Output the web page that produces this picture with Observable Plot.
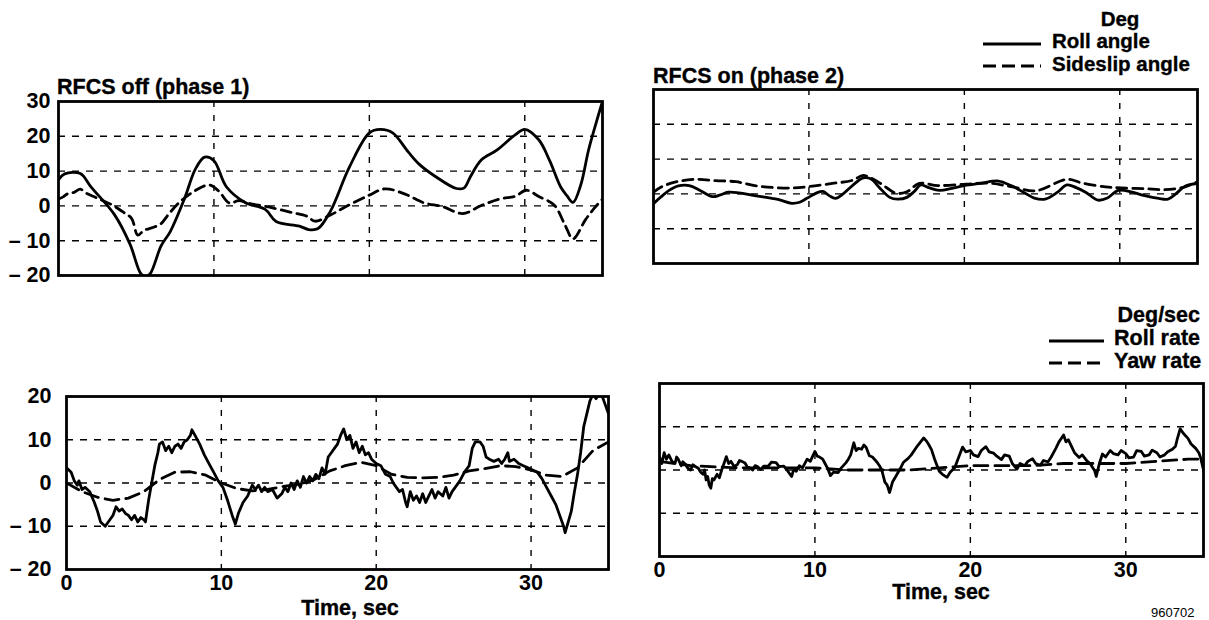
<!DOCTYPE html>
<html>
<head>
<meta charset="utf-8">
<script src="https://cdn.jsdelivr.net/npm/d3@7"></script>
<script src="https://cdn.jsdelivr.net/npm/@observablehq/plot@0.6"></script>
<style>
  html, body { margin: 0; padding: 0; background: #fff; }
  #root { position: relative; width: 1209px; height: 620px; overflow: hidden; background: #fff; }
  #root svg { position: absolute; }
  .lbl { font-family: "Liberation Sans", Arial, Helvetica, sans-serif; font-weight: bold; font-size: 21.5px; fill: #000; stroke: #000; stroke-width: 0.35px; }
</style>
</head>
<body>
<div id="root"></div>
<script>
// ---------- data (time s, value) ----------
const timeTicks = [0, 10, 20, 30];
const angleTicks = [30, 20, 10, 0, -10, -20];
const angleTickLabels = ["30", "20", "10", "0", "\u2013 10", "\u2013 20"];
const rateTicks = [20, 10, 0, -10, -20];
const rateTickLabels = ["20", "10", "0", "\u2013 10", "\u2013 20"];

// RFCS off (phase 1) – Deg
const rollAngleOff = [[0,7.5],[0.4,9.2],[1.4,9.3],[2.1,5.4],[3.6,-2.5],[4.6,-11],[5.3,-19.5],[5.6,-20.3],[5.9,-19.5],[6.6,-11.5],[7.2,-7.3],[8.1,2],[8.8,10.5],[9.4,14],[10,13],[10.8,5.5],[12,1],[13.3,-1],[14,-4.5],[15.5,-5.8],[16.1,-6.8],[16.7,-6.5],[17.5,-1.5],[18.7,11],[20,21],[20.7,22],[21.5,21],[22.5,15.5],[23.2,12],[24.2,8.6],[25.6,5],[26.1,5.2],[26.5,8.4],[27.2,13.2],[28.2,16],[29.4,20.5],[30,22],[30.9,19],[31.6,13],[32.3,5.5],[32.7,3],[33.1,1],[33.6,6],[34.1,16],[34.6,24],[35,30]];
const sideslipOff = [[0,2],[0.3,2.6],[0.6,3.5],[1,3.9],[1.4,4.8],[1.8,3.6],[2.4,2.4],[3.4,0.4],[4.1,-1.6],[4.7,-3.6],[5.1,-8.4],[5.5,-7],[5.8,-6.6],[6.2,-6],[6.6,-5.1],[7.1,-2.3],[7.8,1.1],[8.8,4.4],[9.7,6],[10.3,4.3],[11,0.8],[11.6,1.5],[12.3,0.7],[13.5,-0.3],[15,-1.9],[16,-3],[16.5,-4.4],[17.5,-2.6],[18.5,-0.2],[20,3.1],[21,4.9],[22.3,3.4],[23.5,0.9],[24.7,-0.2],[26,-2.2],[27.2,0.1],[28.4,2],[29.4,2.8],[30.1,4.5],[30.9,2.7],[31.9,0.2],[32.6,-5.6],[33.1,-9.5],[33.9,-4],[34.5,-0.5],[35,2]];

// RFCS on (phase 2) – Deg
const rollAngleOn = [[0,-2.8],[0.5,-0.8],[1,1],[1.6,2.3],[2.3,2.4],[3,1],[3.8,-0.8],[4.3,-0.3],[4.8,0.5],[5.5,0.3],[6.5,-0.5],[8,-1.6],[8.9,-2.7],[9.4,-2.4],[9.9,-1.2],[10.5,0.3],[10.9,0.7],[11.3,-0.5],[11.7,-1.3],[12.2,0],[12.8,2.4],[13.5,4.6],[14,4.3],[14.6,1.5],[15.2,-1],[15.7,-1.5],[16.3,-1],[16.8,0.8],[17.2,2.6],[17.7,1.8],[18.4,1],[19.2,1.6],[20,2.4],[21,3],[22.2,3.7],[23,2.4],[23.8,0.5],[24.5,-1.2],[25.2,-1.5],[26,0.5],[26.6,2.6],[27.2,1.8],[27.8,0.5],[28.6,-1.8],[29.2,-1.2],[29.9,1],[30.8,0.5],[31.6,-0.5],[32.5,-1.3],[33.1,-1.5],[33.6,0],[34.2,2.2],[35,3]];
const sideslipOn = [[0,0.5],[0.5,2],[1.5,3.5],[2.8,4.2],[4,3.8],[5.3,3.5],[6.5,2.4],[7.8,1.8],[9,1.7],[10,2.1],[11.5,3],[12.8,3.9],[13.5,5.3],[14.5,3.3],[15.6,0.2],[16.3,0.6],[17.1,3],[18.3,2.4],[20.1,2.8],[21.6,3.1],[23.1,2],[24.6,0.9],[26.6,4.2],[27.6,3.1],[29.1,2],[30.1,1.7],[31.6,1.5],[32.9,1.2],[34.1,1.9],[35,3.5]];

// RFCS off (phase 1) – Deg/sec
const rollRateOff = [[0,3.5],[0.3,2.5],[0.5,0.5],[0.7,-0.5],[0.8,0.5],[1.0,-1.5],[1.2,-1],[1.5,-2],[1.8,-4.5],[2.0,-6.5],[2.2,-9],[2.5,-10],[2.8,-8.5],[3.0,-7.5],[3.2,-5.5],[3.4,-6.5],[3.6,-6],[3.8,-7],[4.0,-7.5],[4.2,-8.5],[4.4,-7.5],[4.6,-9],[4.8,-8],[5.0,-8.5],[5.1,-9],[5.3,-4],[5.5,0],[5.7,4],[5.9,7],[6.0,9],[6.2,9.5],[6.4,7.5],[6.6,8.5],[6.8,7],[7.0,8.5],[7.2,9],[7.4,8],[7.6,9.5],[7.8,10],[8.0,11],[8.1,12.3],[8.3,11],[8.6,9],[8.9,6.5],[9.2,4.5],[9.5,2.5],[9.8,0.5],[10.1,-1],[10.4,-4],[10.7,-7.5],[10.9,-9.5],[11.1,-7],[11.4,-4.5],[11.7,-3],[12.0,-0.5],[12.2,-1.5],[12.4,-0.5],[12.6,-2],[12.8,-1],[13.0,-2],[13.3,-1.5],[13.6,-3.5],[13.9,-2.5],[14.1,-1],[14.3,-2],[14.5,0],[14.7,-1.5],[14.9,0.5],[15.1,-1],[15.3,1.5],[15.5,0],[15.7,1.5],[15.9,0.5],[16.1,2],[16.3,1],[16.5,3.5],[16.7,2],[16.9,6],[17.1,7],[17.3,8],[17.5,9],[17.7,11],[17.9,12.5],[18.1,10],[18.3,11],[18.5,8],[18.7,9.5],[18.9,7],[19.1,8.5],[19.3,6.5],[19.5,7],[19.7,5.5],[20.0,4.5],[20.3,4],[20.6,2],[20.9,1.5],[21.1,0],[21.3,-1],[21.5,-2],[21.7,-1.5],[21.9,-4.5],[22.0,-5.5],[22.2,-2],[22.4,-4],[22.6,-3],[22.8,-4.5],[23.0,-2.5],[23.2,-4.5],[23.4,-3],[23.6,-1.5],[23.8,-3.5],[24.0,-2],[24.3,-3],[24.5,-1],[24.7,-3.5],[24.9,-2],[25.1,-1],[25.4,0.5],[25.7,2.5],[26.0,4],[26.2,8],[26.4,9.5],[26.7,9.5],[26.9,8.5],[27.1,6],[27.3,5.5],[27.6,5],[27.9,5.5],[28.1,4.5],[28.3,5.5],[28.5,7],[28.6,5],[28.9,5.5],[29.2,4.5],[29.5,4],[29.8,3.5],[30.1,3],[30.4,2.5],[30.7,1],[31.0,-1],[31.3,-3],[31.6,-5],[31.9,-8],[32.1,-10],[32.2,-11.5],[32.4,-9],[32.6,-6.5],[32.8,-2],[33.0,2],[33.2,7],[33.4,13],[33.6,16],[33.8,19],[34.0,20.5],[34.2,19.5],[34.4,21],[34.6,20],[34.8,18],[35,16]];
const yawRateOff = [[0,0],[1,-2],[2,-3.3],[3,-4],[4,-3.5],[5,-2],[6,0.8],[7,2.5],[8,2.6],[9,1.8],[10,0],[11,-1.3],[12,-1.8],[13,-1.5],[14,-0.8],[15,-0.3],[16,0.8],[17,2.8],[18,4],[19,4.8],[20,4],[21,2],[22,1.3],[23,1.2],[24,1.3],[25,1.8],[26,2.8],[27,3.3],[28,4],[29,3.8],[30,3],[31,1.8],[32,1.5],[33,3.5],[34,7.5],[35,9.5]];

// RFCS on (phase 2) – Deg/sec
const rollRateOn = [[0,3],[0.15,1.5],[0.3,4],[0.45,2.5],[0.6,3.5],[0.8,2],[1,1.5],[1.1,3],[1.2,2.5],[1.4,1],[1.5,1.9],[1.7,1.2],[1.8,0.5],[2,0],[2.15,1.2],[2.3,0.8],[2.5,0.4],[2.65,-0.5],[2.8,-1],[2.9,0],[3,-2.3],[3.1,-1.5],[3.2,-3.5],[3.3,-4.2],[3.4,-2],[3.5,-2.3],[3.7,-1],[3.85,-1.8],[4,0],[4.15,1.5],[4.3,3.1],[4.45,1.5],[4.6,2],[4.8,0.8],[5,1.2],[5.15,2.2],[5.3,2],[5.5,1.6],[5.65,0.7],[5.8,0.5],[6,0],[6.15,1],[6.3,0.8],[6.5,0.1],[6.7,0.9],[7,0.9],[7.2,1.8],[7.5,1.7],[7.7,0.8],[8,0.9],[8.2,0],[8.5,-1.5],[8.65,0.3],[8.8,-0.3],[9,1],[9.2,0.5],[9.5,2.5],[9.7,2],[10,4.3],[10.15,3.2],[10.3,3],[10.5,2.5],[10.65,1.5],[10.8,0.5],[11,-1.3],[11.2,-0.5],[11.5,-0.6],[11.7,0.5],[12,1.7],[12.15,2.5],[12.3,3.5],[12.5,6.3],[12.65,4.5],[12.8,5],[13,4.8],[13.15,5.8],[13.3,5.2],[13.5,3.3],[13.7,3],[14,1.8],[14.15,1],[14.3,0],[14.5,-2.8],[14.65,-3.5],[14.8,-5.2],[15,-2.7],[15.2,-1.5],[15.5,0.4],[15.7,1.8],[16,2.7],[16.2,3.5],[16.5,5.1],[16.8,6.5],[17,7.4],[17.15,6.8],[17.3,6],[17.5,4.7],[17.7,2.5],[18,-0.3],[18.2,-1],[18.5,-1.7],[18.7,-0.5],[19,0.6],[19.2,2.5],[19.5,5.3],[19.7,4.2],[20,4.5],[20.2,3.5],[20.5,3.1],[20.7,4.5],[21,5.4],[21.2,4.2],[21.5,3.9],[21.7,3.2],[22,2.4],[22.2,3.5],[22.5,3.2],[22.7,1.5],[23,0.2],[23.2,1.5],[23.5,1],[23.7,2],[24,2.6],[24.2,1.5],[24.5,1.1],[24.7,2.2],[25,1.9],[25.2,3],[25.5,5],[25.7,6.5],[26,8.1],[26.15,6.5],[26.3,7],[26.5,5.5],[26.7,4],[27,2.9],[27.2,3.5],[27.5,2.1],[27.7,1.5],[28,-0.2],[28.1,-1.5],[28.2,0],[28.3,1.5],[28.5,3.7],[28.7,3],[29,4.5],[29.2,3.8],[29.5,3.5],[29.7,4.5],[30,3.8],[30.2,2.8],[30.5,3],[30.7,4.5],[31,4.3],[31.2,3.2],[31.5,3.5],[31.7,4.6],[32,4],[32.2,3],[32.5,3.5],[32.7,4.2],[33,4.8],[33.2,5.5],[33.3,7],[33.5,9.5],[33.7,8.5],[34,7.3],[34.2,6],[34.5,5],[34.7,4],[34.8,3],[35,0]];
const yawRateOn = [[0,2],[2,1],[5,0.5],[8,0.5],[10,0.5],[12,0],[14,0],[16,0],[18,0.5],[20,1],[22,1],[24,1],[26,1.5],[28,1.5],[30,1.5],[32,2],[34,2.5],[35,2.5]];

// ---------- drawing ----------
const root = document.getElementById("root");
const FONT = '"Liberation Sans", Arial, Helvetica, sans-serif';
const toRows = a => a.map(([t, v]) => ({t, v}));

function panel({left, top, w, h, yDomain, yTicks, yLabels, yPad, showY, showX, solid, dashed, dash, curve}) {
  const ML = 70, MR = 8, MT = 8, MB = 40;
  const fmt = d => yLabels[yTicks.indexOf(d)];
  const grid = yTicks.filter(d => d !== yDomain[0] && d !== yDomain[1]);
  const chart = Plot.plot({
    width: w + ML + MR, height: h + MT + MB,
    marginLeft: ML, marginRight: MR, marginTop: MT, marginBottom: MB,
    x: {domain: [0, 35], ticks: timeTicks, tickSize: 0, tickPadding: 5, label: null, axis: showX ? "bottom" : null},
    y: {domain: yDomain, ticks: yTicks, tickFormat: fmt, tickSize: 0, tickPadding: yPad, label: null, axis: showY ? "left" : null},
    style: {fontFamily: FONT, fontWeight: "bold", fontSize: "21.5px", color: "#000", background: "transparent", overflow: "visible"},
    marks: [
      Plot.ruleX([10, 20, 30], {stroke: "#000", strokeWidth: 1.4, strokeDasharray: "6,8"}),
      Plot.ruleY(grid, {stroke: "#000", strokeWidth: 1.4, strokeDasharray: "7,7"}),
      Plot.line(toRows(dashed), {x: "t", y: "v", stroke: "#000", strokeWidth: 2.8, strokeDasharray: dash, curve, clip: true}),
      Plot.line(toRows(solid), {x: "t", y: "v", stroke: "#000", strokeWidth: 2.8, curve, clip: true}),
      Plot.frame({stroke: "#000", strokeWidth: 2.8})
    ]
  });
  chart.style.left = (left - ML) + "px";
  chart.style.top = (top - MT) + "px";
  root.appendChild(chart);
}

panel({left: 58, top: 101, w: 544, h: 174, yDomain: [-20, 30], yTicks: angleTicks, yLabels: angleTickLabels, yPad: 8,
       showY: true, showX: false, solid: rollAngleOff, dashed: sideslipOff, dash: "10,6", curve: "catmull-rom"});
panel({left: 653, top: 89, w: 544, h: 174, yDomain: [-20, 30], yTicks: angleTicks, yLabels: angleTickLabels, yPad: 8,
       showY: false, showX: false, solid: rollAngleOn, dashed: sideslipOn, dash: "10,6", curve: "catmull-rom"});
panel({left: 66, top: 396, w: 542, h: 173, yDomain: [-20, 20], yTicks: rateTicks, yLabels: rateTickLabels, yPad: 15,
       showY: true, showX: true, solid: rollRateOff, dashed: yawRateOff, dash: "14,7", curve: "linear"});
panel({left: 659, top: 383, w: 544, h: 173, yDomain: [-20, 20], yTicks: rateTicks, yLabels: rateTickLabels, yPad: 15,
       showY: false, showX: true, solid: rollRateOn, dashed: yawRateOn, dash: "14,7", curve: "linear"});

// ---------- titles, legends, axis titles ----------
const ns = "http://www.w3.org/2000/svg";
const ov = document.createElementNS(ns, "svg");
ov.setAttribute("width", 1209); ov.setAttribute("height", 620);
ov.style.left = "0px"; ov.style.top = "0px";
root.appendChild(ov);
function txt(s, x, y, anchor = "start", extra = {}) {
  const t = document.createElementNS(ns, "text");
  t.setAttribute("x", x); t.setAttribute("y", y);
  t.setAttribute("text-anchor", anchor);
  t.setAttribute("class", "lbl");
  for (const k in extra) t.setAttribute(k, extra[k]);
  t.textContent = s; ov.appendChild(t);
}
function swatch(x1, x2, y, dash) {
  const l = document.createElementNS(ns, "line");
  l.setAttribute("x1", x1); l.setAttribute("x2", x2); l.setAttribute("y1", y); l.setAttribute("y2", y);
  l.setAttribute("stroke", "#000"); l.setAttribute("stroke-width", 2.8);
  if (dash) l.setAttribute("stroke-dasharray", dash);
  ov.appendChild(l);
}
const legFont = {style: "font-size:20.5px"};
txt("RFCS off (phase 1)", 57, 94);
txt("RFCS on (phase 2)", 653, 83);
txt("Deg", 1120, 26, "middle", legFont);
swatch(983, 1041, 44, null);
txt("Roll angle", 1052, 48, "start", legFont);
swatch(983, 1041, 66, "13,6");
txt("Sideslip angle", 1052, 71, "start", legFont);
txt("Deg/sec", 1200, 322, "end");
swatch(1049, 1104, 341, null);
txt("Roll rate", 1114, 345);
swatch(1049, 1104, 363, "13,6");
txt("Yaw rate", 1114, 368);
txt("Time, sec", 350, 615, "middle");
txt("Time, sec", 941, 599, "middle");
txt("960702", 1151, 617, "start", {style: "font-weight:normal;font-size:13px;stroke:none"});
</script>
</body>
</html>
